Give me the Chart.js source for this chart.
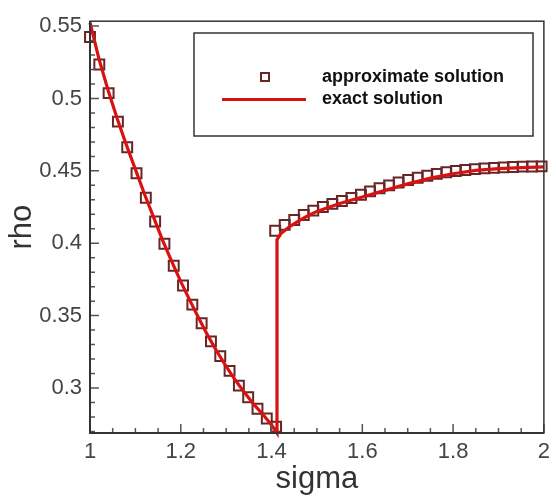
<!DOCTYPE html>
<html>
<head>
<meta charset="utf-8">
<title>rho vs sigma</title>
<script src="https://cdn.jsdelivr.net/npm/chart.js@4.4.1/dist/chart.umd.min.js"></script>
<style>
  html, body { margin: 0; padding: 0; background: #fff; }
  #wrap { position: relative; width: 556px; height: 498px; }
</style>
</head>
<body>
<div id="wrap"><canvas id="rhoChart" width="556" height="498"></canvas></div>
<script>
// exact solution (sigma, rho), includes the jump at the shock
const exactSigma = [1.00, 1.02, 1.04, 1.06, 1.08, 1.10, 1.12, 1.14, 1.16, 1.18, 1.20,
                    1.22, 1.24, 1.26, 1.28, 1.30, 1.32, 1.34, 1.36, 1.38, 1.40, 1.412,
                    1.412, 1.42, 1.44, 1.46, 1.48, 1.50, 1.55, 1.60, 1.65, 1.70, 1.75,
                    1.80, 1.85, 1.90, 1.95, 2.00];
const exactRho = [0.5525, 0.5270, 0.5055, 0.4860, 0.4680, 0.4510, 0.4340, 0.4180, 0.4020, 0.3875, 0.3735,
                  0.3605, 0.3480, 0.3360, 0.3250, 0.3150, 0.3055, 0.2970, 0.2890, 0.2820, 0.2745, 0.2689,
                  0.4025, 0.4065, 0.4115, 0.4155, 0.4190, 0.4220, 0.4275, 0.4320, 0.4365, 0.4410, 0.4450,
                  0.4480, 0.4503, 0.4516, 0.4523, 0.4527];

// approximate solution, upstream of the shock
const approxSigmaL = [1.000, 1.0205, 1.041, 1.0615, 1.082, 1.1025, 1.123, 1.1435, 1.164, 1.1845, 1.205,
                      1.2255, 1.246, 1.2665, 1.287, 1.3075, 1.328, 1.3485, 1.369, 1.3895, 1.410];
const approxRhoL = [0.5425, 0.5235, 0.5037, 0.4840, 0.4663, 0.4484, 0.4314, 0.4150, 0.3996, 0.3844, 0.3708,
                    0.3576, 0.3447, 0.3322, 0.3220, 0.3118, 0.3016, 0.2936, 0.2857, 0.2789, 0.2732];

// approximate solution, downstream of the shock
const approxSigmaR = [1.408, 1.429, 1.450, 1.471, 1.492, 1.513, 1.534, 1.555, 1.576, 1.597,
                      1.617, 1.638, 1.659, 1.680, 1.701, 1.722, 1.743, 1.764, 1.785, 1.806,
                      1.827, 1.848, 1.869, 1.890, 1.911, 1.932, 1.953, 1.974, 1.995];
const approxRhoR = [0.4086, 0.4127, 0.4161, 0.4195, 0.4225, 0.4250, 0.4272, 0.4292, 0.4313, 0.4335,
                    0.4358, 0.4380, 0.4400, 0.4420, 0.4437, 0.4452, 0.4466, 0.4479, 0.4490, 0.4499,
                    0.4506, 0.4512, 0.4517, 0.4521, 0.4524, 0.4527, 0.4529, 0.4530, 0.4531];

const xTicks = [1, 1.2, 1.4, 1.6, 1.8, 2];
const yTicks = [0.3, 0.35, 0.4, 0.45, 0.5, 0.55];
const xMinorTicks = [1.05, 1.1, 1.15, 1.25, 1.3, 1.35, 1.45, 1.5, 1.55, 1.65, 1.7, 1.75, 1.85, 1.9, 1.95];
const yMinorTicks = [0.27, 0.28, 0.29, 0.31, 0.32, 0.33, 0.34, 0.36, 0.37, 0.38, 0.39,
                     0.41, 0.42, 0.43, 0.44, 0.46, 0.47, 0.48, 0.49, 0.51, 0.52, 0.53, 0.54];

const RED = "#d81212";
const MAROON = "#682525";
const AXIS = "#333333";
const FONT = "'Liberation Sans', Arial, sans-serif";

const toPoints = (xs, ys) => xs.map((x, i) => ({ x: x, y: ys[i] }));

// frame, inward tick marks and the boxed legend
const framePlugin = {
    id: "frame",
    afterDatasetsDraw(chart) {
        const { ctx, chartArea: a, scales: { x, y } } = chart;
        ctx.save();
        ctx.strokeStyle = "#555";
        ctx.lineWidth = 1.5;
        ctx.beginPath();
        xTicks.forEach(v => { const px = x.getPixelForValue(v); ctx.moveTo(px, a.bottom); ctx.lineTo(px, a.bottom - 9); });
        xMinorTicks.forEach(v => { const px = x.getPixelForValue(v); ctx.moveTo(px, a.bottom); ctx.lineTo(px, a.bottom - 5); });
        yTicks.forEach(v => { const py = y.getPixelForValue(v); ctx.moveTo(a.left, py); ctx.lineTo(a.left + 9, py); });
        yMinorTicks.forEach(v => { const py = y.getPixelForValue(v); ctx.moveTo(a.left, py); ctx.lineTo(a.left + 5, py); });
        ctx.stroke();

        ctx.strokeStyle = AXIS;
        ctx.lineWidth = 1.5;
        ctx.strokeRect(a.left, a.top, a.right - a.left, a.bottom - a.top);
        ctx.lineWidth = 2;
        ctx.beginPath();
        ctx.moveTo(a.left, a.top);
        ctx.lineTo(a.left, a.bottom);
        ctx.lineTo(a.right, a.bottom);
        ctx.stroke();
        ctx.restore();
    },
    afterDraw(chart) {
        const ctx = chart.ctx;
        ctx.save();
        ctx.fillStyle = "#fff";
        ctx.fillRect(194, 33, 339, 103);
        ctx.strokeStyle = AXIS;
        ctx.lineWidth = 1.5;
        ctx.strokeRect(194, 33, 339, 103);

        ctx.strokeStyle = MAROON;
        ctx.lineWidth = 2;
        ctx.strokeRect(261, 73, 8, 8);

        ctx.strokeStyle = RED;
        ctx.lineWidth = 3;
        ctx.beginPath();
        ctx.moveTo(222, 99.5);
        ctx.lineTo(306, 99.5);
        ctx.stroke();

        ctx.fillStyle = "#111";
        ctx.font = "bold 18px " + FONT;
        ctx.textBaseline = "middle";
        ctx.fillText("approximate solution", 322, 77);
        ctx.fillText("exact solution", 322, 99);
        ctx.restore();
    }
};

new Chart(document.getElementById("rhoChart"), {
    type: "scatter",
    data: {
        datasets: [
            {
                label: "exact solution",
                data: toPoints(exactSigma, exactRho),
                showLine: true,
                borderColor: RED,
                borderWidth: 3.2,
                pointRadius: 0,
                tension: 0,
                clip: false
            },
            {
                label: "approximate solution",
                data: toPoints(approxSigmaL, approxRhoL).concat(toPoints(approxSigmaR, approxRhoR)),
                showLine: false,
                pointStyle: "rect",
                pointRadius: 7,
                pointBorderColor: MAROON,
                pointBorderWidth: 2,
                pointBackgroundColor: "rgba(255,255,255,0)",
                clip: false
            }
        ]
    },
    options: {
        responsive: false,
        animation: false,
        events: [],
        layout: { padding: { left: 0, right: 8, top: 15, bottom: 0 } },
        plugins: { legend: { display: false }, tooltip: { enabled: false } },
        scales: {
            x: {
                type: "linear",
                min: 1,
                max: 2,
                grid: { display: false, drawTicks: false },
                border: { display: false },
                afterBuildTicks: s => { s.ticks = xTicks.map(v => ({ value: v })); },
                afterFit: s => { s.height = 65; },
                ticks: {
                    color: "#444",
                    padding: 6,
                    font: { family: FONT, size: 22 },
                    callback: v => String(v)
                },
                title: {
                    display: true,
                    text: "sigma",
                    color: "#333",
                    font: { family: FONT, size: 31 },
                    padding: { top: 0, bottom: 0 }
                }
            },
            y: {
                type: "linear",
                min: 0.2689,
                max: 0.5534,
                grid: { display: false, drawTicks: false },
                border: { display: false },
                afterBuildTicks: s => { s.ticks = yTicks.map(v => ({ value: v })); },
                afterFit: s => { s.width = 90; },
                ticks: {
                    color: "#444",
                    padding: 8,
                    font: { family: FONT, size: 22 },
                    callback: v => String(v)
                },
                title: {
                    display: true,
                    text: "rho",
                    color: "#333",
                    font: { family: FONT, size: 31 },
                    padding: { top: 4, bottom: 0 }
                }
            }
        }
    },
    plugins: [framePlugin]
});
</script>
</body>
</html>
